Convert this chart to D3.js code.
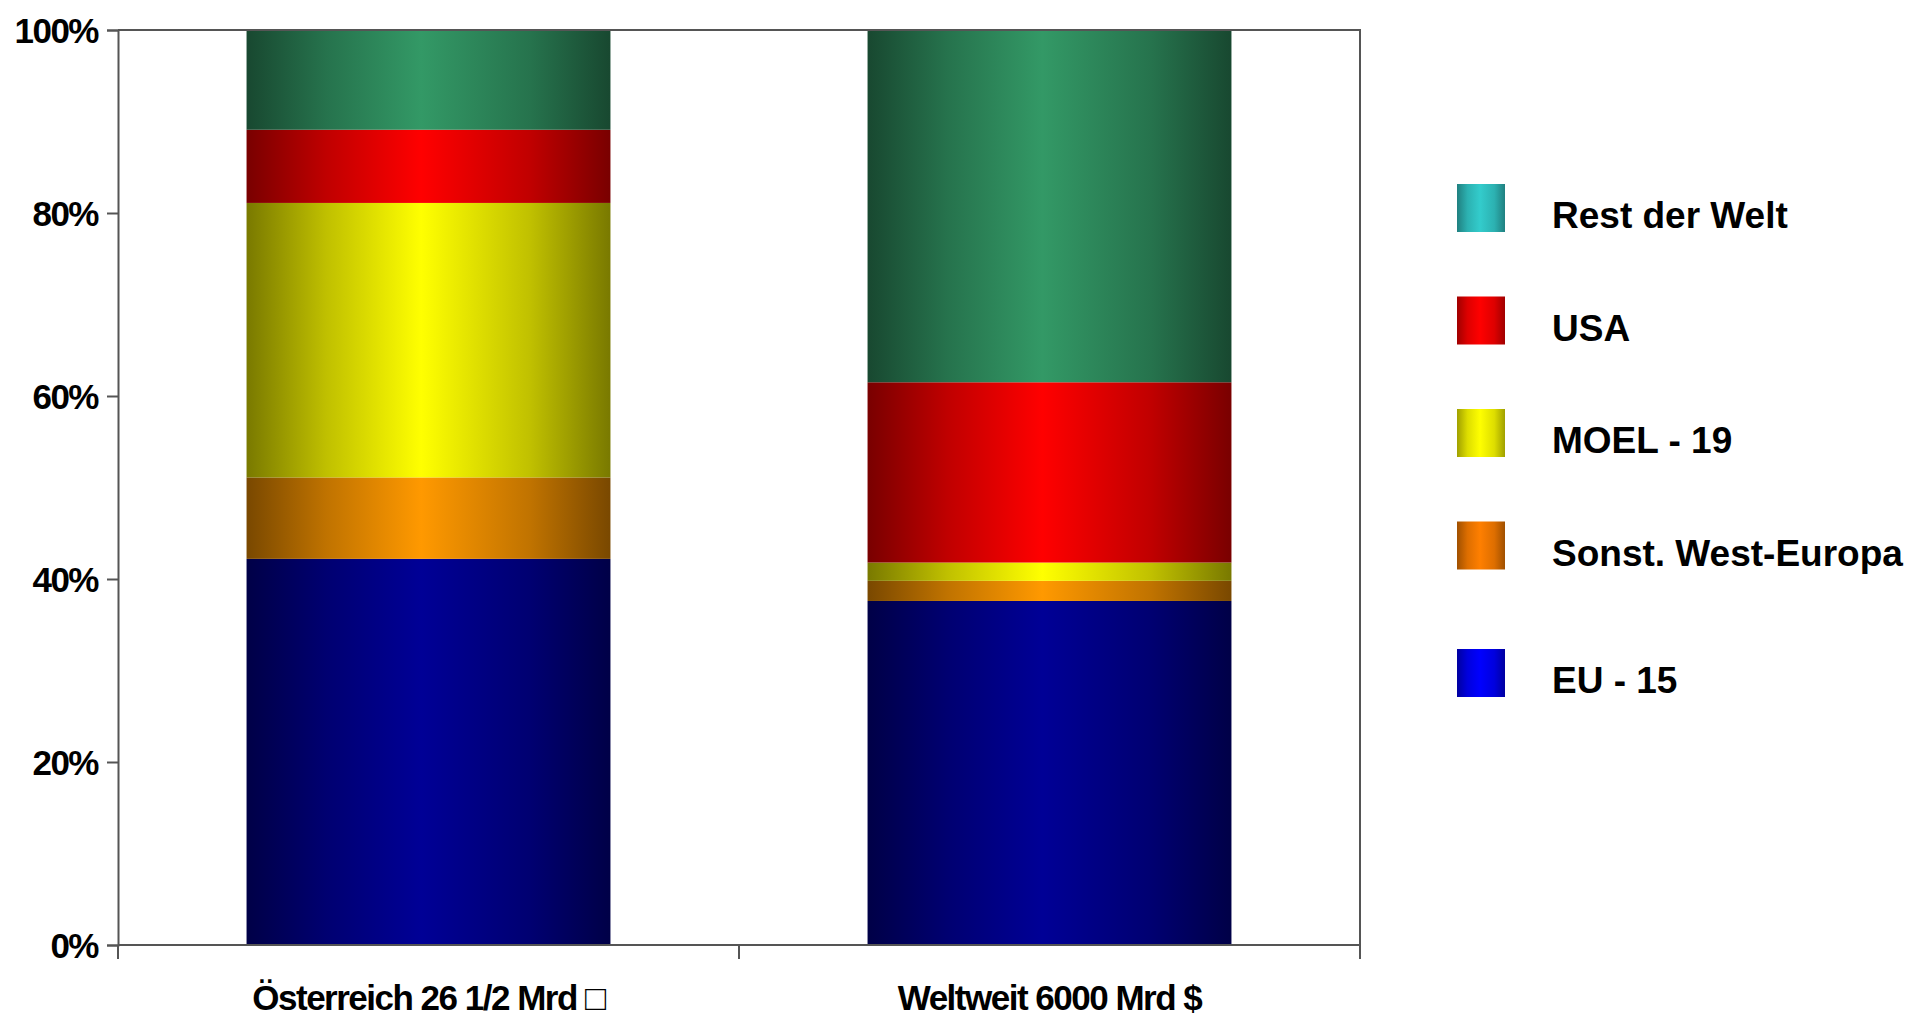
<!DOCTYPE html>
<html>
<head>
<meta charset="utf-8">
<script src="https://cdn.jsdelivr.net/npm/d3@7"></script>
<style>
  html, body { margin: 0; padding: 0; background: #fff; }
  svg { display: block; font-family: "Liberation Sans", Arial, sans-serif; font-weight: bold; }
</style>
</head>
<body>
<svg id="chart"></svg>
<script>
// --- DATA ---
const categories = ["Österreich 26 1/2 Mrd \u25A1", "Weltweit 6000 Mrd $"];
const seriesNames = ["EU - 15", "Sonst. West-Europa", "MOEL - 19", "USA", "Rest der Welt"];
const eu15 = [42.2, 37.6];
const sonstWest = [8.9, 2.2];
const moel19 = [30.0, 2.0];
const usa = [8.0, 19.7];
const restWelt = [10.9, 38.5];
const yTicks = [0, 20, 40, 60, 80, 100];

// bar fill vs legend swatch colours differ in the original
const barColors = ["#000096", "#ff9900", "#ffff00", "#ff0000", "#339966"];
const legendColors = ["#0000ff", "#ff7f00", "#ffff00", "#ff0000", "#33cccc"];

const width = 1910, height = 1018;
const margin = { left: 118, right: 550, top: 30, bottom: 73 };

const svg = d3.select("#chart").attr("width", width).attr("height", height);

const rows = categories.map((c, i) => ({
  cat: c,
  [seriesNames[0]]: eu15[i],
  [seriesNames[1]]: sonstWest[i],
  [seriesNames[2]]: moel19[i],
  [seriesNames[3]]: usa[i],
  [seriesNames[4]]: restWelt[i]
}));
const stacked = d3.stack().keys(seriesNames)(rows);

// --- SCALES ---
const x = d3.scaleBand().domain(categories)
  .range([margin.left, width - margin.right])
  .paddingInner(0.414).paddingOuter(0.207);
const y = d3.scaleLinear().domain([0, 100]).range([height - margin.bottom, margin.top]);

// --- GRADIENTS (cylinder-like shading) ---
const defs = svg.append("defs");
function gradient(id, col, edge, mid) {
  const c = d3.color(col);
  const g = defs.append("linearGradient").attr("id", id)
    .attr("x1", "0%").attr("x2", "100%").attr("y1", "0%").attr("y2", "0%");
  g.append("stop").attr("offset", "0%").attr("stop-color", c.darker(edge));
  g.append("stop").attr("offset", "22%").attr("stop-color", c.darker(mid));
  g.append("stop").attr("offset", "48%").attr("stop-color", c);
  g.append("stop").attr("offset", "78%").attr("stop-color", c.darker(mid));
  g.append("stop").attr("offset", "100%").attr("stop-color", c.darker(edge));
}
barColors.forEach((c, i) => gradient("bar" + i, c, 2.1, 0.8));
legendColors.forEach((c, i) => gradient("leg" + i, c, 1.3, 0.4));

// --- BARS ---
svg.append("g").selectAll("g")
  .data(stacked).join("g")
  .attr("fill", (d, i) => `url(#bar${i})`)
  .selectAll("rect")
  .data(d => d).join("rect")
  .attr("x", d => x(d.data.cat))
  .attr("width", x.bandwidth())
  .attr("y", d => y(d[1]))
  .attr("height", d => y(d[0]) - y(d[1]));

// --- FRAME & AXES ---
const axisColor = "#555";
const x0 = margin.left, x1 = width - margin.right, yTop = y(100), yBot = y(0);
svg.append("path")
  .attr("d", `M${x0},${yTop}H${x1}V${yBot}`)
  .attr("fill", "none").attr("stroke", axisColor).attr("stroke-width", 2);

const yAxis = svg.append("g")
  .attr("transform", `translate(${x0},0)`)
  .call(d3.axisLeft(y).tickValues(yTicks).tickFormat(d => d + "%").tickSize(11).tickPadding(9));
yAxis.select(".domain").attr("stroke", axisColor).attr("stroke-width", 2);
yAxis.selectAll(".tick line").attr("stroke", axisColor).attr("stroke-width", 2);
yAxis.selectAll("text")
  .attr("fill", "#000").style("font-size", "35px").style("font-weight", "bold")
  .style("letter-spacing", "-1.5px").attr("dy", "0.36em");

// x axis: ticks on band boundaries
const xBounds = [x0, (x0 + x1) / 2, x1];
const xAxis = svg.append("g").attr("transform", `translate(0,${yBot})`);
xAxis.append("line").attr("x1", x0).attr("x2", x1)
  .attr("stroke", axisColor).attr("stroke-width", 2);
xAxis.selectAll("line.t").data(xBounds).join("line").attr("class", "t")
  .attr("x1", d => d).attr("x2", d => d).attr("y1", 0).attr("y2", 14)
  .attr("stroke", axisColor).attr("stroke-width", 2);
xAxis.selectAll("text").data(categories).join("text")
  .attr("x", d => x(d) + x.bandwidth() / 2)
  .attr("y", 65)
  .attr("text-anchor", "middle")
  .style("font-size", "35px").style("letter-spacing", "-1.5px")
  .text(d => d);

// --- LEGEND (top entry = last series) ---
const legendOrder = seriesNames.map((s, i) => i).reverse();
const legend = svg.append("g");
const item = legend.selectAll("g").data(legendOrder).join("g")
  .attr("transform", (d, j) => `translate(1457,${208 + j * 112.5 + (j === 4 ? 15 : 0)})`);
item.append("rect")
  .attr("x", 0).attr("y", -24).attr("width", 48).attr("height", 48)
  .attr("fill", d => `url(#leg${d})`);
item.append("text")
  .attr("x", 95).attr("y", 20)
  .style("font-size", "37px")
  .text(d => seriesNames[d]);
</script>
</body>
</html>
